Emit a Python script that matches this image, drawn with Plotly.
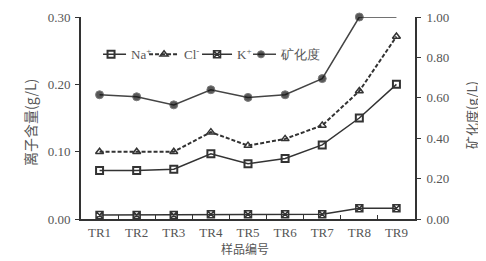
import plotly.graph_objects as go

samples = ["TR1", "TR2", "TR3", "TR4", "TR5", "TR6", "TR7", "TR8", "TR9"]
na = [0.072, 0.072, 0.074, 0.097, 0.082, 0.090, 0.110, 0.150, 0.200]
cl = [0.100, 0.100, 0.100, 0.129, 0.109, 0.119, 0.139, 0.190, 0.271]
k = [0.006, 0.006, 0.006, 0.007, 0.007, 0.007, 0.007, 0.016, 0.016]
tds = [0.615, 0.605, 0.565, 0.640, 0.602, 0.615, 0.695, 1.00, 1.00]
left_ticks = [0.00, 0.10, 0.20, 0.30]
right_ticks = [0.00, 0.20, 0.40, 0.60, 0.80, 1.00]

serif = "Liberation Serif, Times New Roman, serif"
cjk = "Noto Sans CJK SC"
txt = "#555555"
line_c = "#333333"

fig = go.Figure()
fig.add_trace(go.Scatter(
    x=samples, y=na, name="Na<sup>+</sup>", mode="lines+markers",
    line=dict(color=line_c, width=1.5),
    marker=dict(symbol="square-open", size=7, color=line_c, line=dict(width=2)),
))
fig.add_trace(go.Scatter(
    x=samples, y=cl, name="Cl<sup>-</sup>", mode="lines+markers",
    line=dict(color=line_c, width=2, dash="4px,2px"),
    marker=dict(symbol="triangle-up-open", size=7, color=line_c, line=dict(width=1.5)),
))
fig.add_trace(go.Scatter(
    x=samples, y=k, name="K<sup>+</sup>", mode="lines+markers",
    line=dict(color=line_c, width=1.5),
    marker=dict(symbol="square-x-open", size=7, color=line_c, line=dict(width=1.5)),
))
fig.add_trace(go.Scatter(
    x=samples, y=tds, name="矿化度", mode="lines+markers", yaxis="y2", legend="legend2",
    line=dict(color="#444444", width=1.5),
    marker=dict(symbol="circle", size=[8] * 8 + [0], color="#111111"),
    cliponaxis=False,
))

leg_common = dict(
    orientation="h", yanchor="middle", xanchor="left",
    bgcolor="rgba(0,0,0,0)", font=dict(family=serif, size=13, color=txt),
    itemwidth=30, indentation=-12, tracegroupgap=0, itemclick=False,
)

# page body has an 8px margin, so the figure is 8px smaller and margins shifted
fig.update_layout(
    width=478, height=253,
    margin=dict(l=73, r=71, t=9, b=42, autoexpand=False),
    paper_bgcolor="white", plot_bgcolor="white",
    font=dict(family=serif, size=13, color=txt),
    showlegend=True,
    legend=dict(x=0.066, y=0.815, entrywidth=20, entrywidthmode="pixels", **leg_common),
    legend2=dict(x=0.515, y=0.815, **leg_common),
    xaxis=dict(
        type="category", range=[-0.5, 8.5], automargin=False,
        showline=True, linecolor=line_c, linewidth=2,
        ticks="inside", tickson="boundaries", ticklen=4, tickcolor=line_c,
        tickfont=dict(family=serif, size=13, color=txt),
        showgrid=False, zeroline=False,
    ),
    yaxis=dict(
        range=[0, 0.30], tickvals=left_ticks, tickformat=".2f", automargin=False,
        showline=True, linecolor=line_c, linewidth=2,
        ticks="outside", ticklen=4, tickcolor=line_c, ticklabelstandoff=2,
        tickfont=dict(family=serif, size=13, color=txt),
        showgrid=False, zeroline=False,
    ),
    yaxis2=dict(
        overlaying="y", side="right", range=[0, 1.0], tickvals=right_ticks, tickformat=".2f",
        automargin=False,
        showline=True, linecolor=line_c, linewidth=2,
        ticks="outside", ticklen=4, tickcolor=line_c, ticklabelstandoff=3,
        tickfont=dict(family=serif, size=13, color=txt),
        showgrid=False, zeroline=False,
    ),
    annotations=[
        dict(text="离子含量(g/L)", xref="paper", yref="paper", x=-0.153, y=0.48,
             xanchor="center", yanchor="middle", textangle=-90, showarrow=False,
             font=dict(family=cjk, size=14, color=txt)),
        dict(text="矿化度(g/L)", xref="paper", yref="paper", x=1.171, y=0.515,
             xanchor="center", yanchor="middle", textangle=-90, showarrow=False,
             font=dict(family=cjk, size=13, color=txt)),
        dict(text="样品编号", xref="paper", yref="paper", x=0.49, y=-0.144,
             xanchor="center", yanchor="middle", showarrow=False,
             font=dict(family=cjk, size=12, color=txt)),
    ],
)

fig.write_html("out.html")
